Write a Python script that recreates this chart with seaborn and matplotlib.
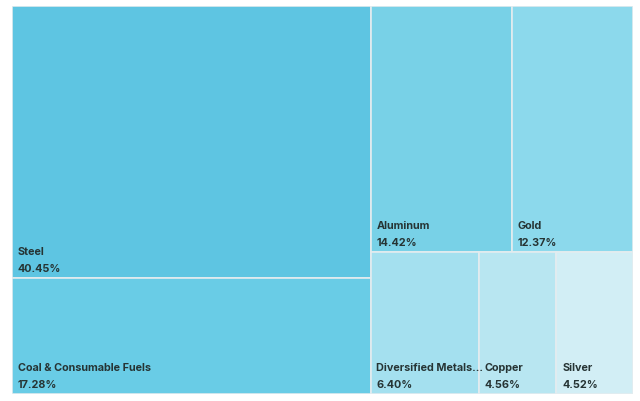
import matplotlib
matplotlib.use("Agg")
import matplotlib.pyplot as plt
import matplotlib.patches as mpatches
import seaborn as sns

# ── Data ──────────────────────────────────────────────────────────────────────
names = ["Steel", "Coal & Consumable Fuels", "Aluminum", "Gold",
         "Diversified Metals...", "Copper", "Silver"]
shares = [40.45, 17.28, 14.42, 12.37, 6.40, 4.56, 4.52]
colors = ["#5ec5e2", "#69cce6", "#78d1e7", "#8cd9ec",
          "#a4e0ef", "#b8e6f1", "#d2eef5"]

# tile grouping: left column (stacked), right column split in two rows
groups = [[[0, 1]], [[2, 3], [4, 5, 6]]]

sns.set_theme(style="white")
plt.rcParams["font.family"] = ["Inter", "DejaVu Sans"]

fig = plt.figure(figsize=(6.4, 4.01), dpi=100)
ax = fig.add_axes([12 / 640, 7 / 401, 621 / 640, 388 / 401])
ax.set_xlim(0, 1)
ax.set_ylim(0, 1)
ax.axis("off")


def tile(idx, rx, ry, rw, rh):
    ax.add_patch(mpatches.Rectangle((rx, ry), rw, rh, facecolor=colors[idx],
                                    edgecolor="#e3ecef", linewidth=1.2))
    ax.text(rx + 0.0095, ry + 0.024, f"{shares[idx]:.2f}%", fontsize=7.8,
            fontweight="bold", color="#263434", va="center", ha="left")
    ax.text(rx + 0.0095, ry + 0.067, names[idx], fontsize=7.8,
            fontweight="bold", color="#263434", va="center", ha="left")


total = sum(shares)
x0 = 0.0
for col in groups:
    col_sum = sum(shares[i] for row in col for i in row)
    w = col_sum / total
    y_top = 1.0
    if len(col) == 1:
        # stacked vertically
        for i in col[0]:
            h = shares[i] / col_sum
            tile(i, x0, y_top - h, w, h)
            y_top -= h
    else:
        for row in col:
            row_sum = sum(shares[i] for i in row)
            h = row_sum / col_sum
            rx = x0
            for i in row:
                rw = w * shares[i] / row_sum
                tile(i, rx, y_top - h, rw, h)
                rx += rw
            y_top -= h
    x0 += w

fig.savefig("out.png", dpi=100, facecolor="white")
